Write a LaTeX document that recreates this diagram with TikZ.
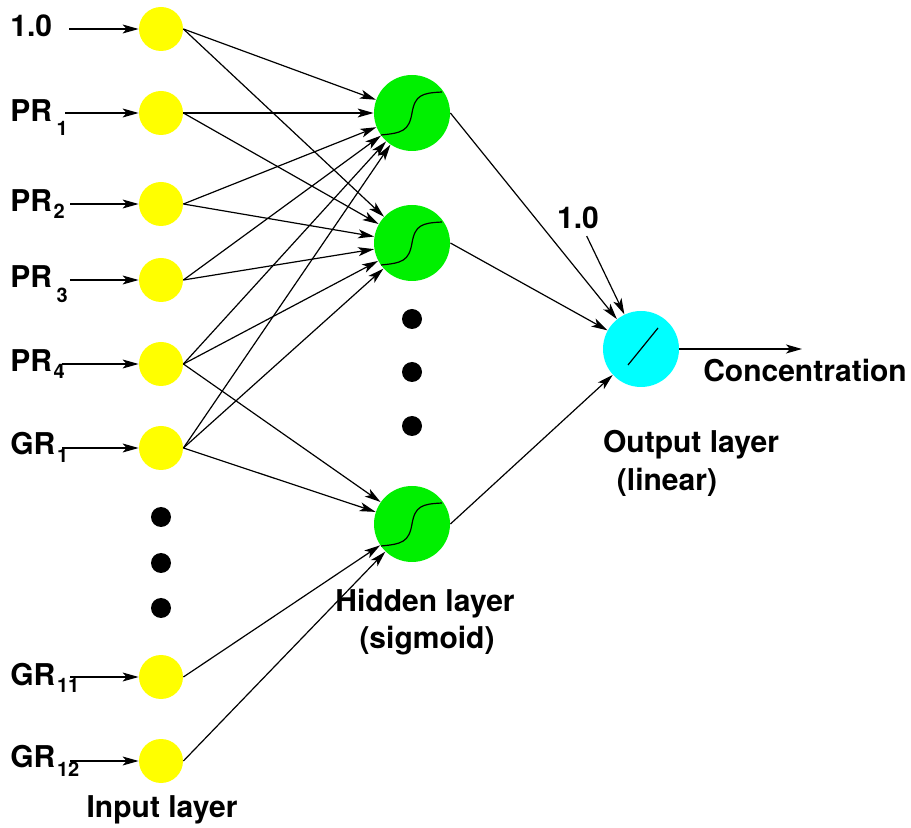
\documentclass[tikz,border=0pt]{standalone}
\usepackage{fontspec}
\setmainfont{TeX Gyre Heros}
\usepackage{tikz}
\usetikzlibrary{arrows.meta}
\definecolor{inyellow}{RGB}{255,255,0}
\definecolor{hidgreen}{RGB}{0,240,0}
\definecolor{outcyan}{RGB}{0,255,255}
\newcommand{\lsub}[2]{\kern0.8pt\raisebox{#1}{\fontsize{10}{10}\selectfont #2}}

\begin{document}
\begin{tikzpicture}[x=0.5pt, y=-0.5pt,
    font=\fontsize{15}{18}\selectfont\bfseries,
    >={Stealth[length=8pt,width=4.5pt,inset=2pt]},
    wire/.style={->, line width=0.6pt},
    unit/.style={circle, inner sep=0pt},
    inputnode/.style={unit, fill=inyellow, minimum size=22pt},
    hiddennode/.style={unit, fill=hidgreen, minimum size=38pt},
    outputnode/.style={unit, fill=outcyan, minimum size=38pt},
    dotnode/.style={unit, fill=black, minimum size=10pt},
    lbl/.style={anchor=base west, inner sep=0pt}]
    \useasboundingbox (0,0) rectangle (911,828);

    % Input layer
    \node[inputnode] (in0) at (161,29) {};
    \node[inputnode] (in1) at (161,113) {};
    \node[inputnode] (in2) at (161,204) {};
    \node[inputnode] (in3) at (161,280) {};
    \node[inputnode] (in4) at (161,364) {};
    \node[inputnode] (in5) at (161,448) {};
    \node[dotnode] (ind1) at (161,517) {};
    \node[dotnode] (ind2) at (161,563) {};
    \node[dotnode] (ind3) at (161,608) {};
    \node[inputnode] (in6) at (161,677) {};
    \node[inputnode] (in7) at (161,761) {};

    % Input labels
    \node[lbl] (lb0) at (10,37) {1.0};
    \node[lbl] (lb1) at (10,122) {PR\kern1.5pt\lsub{-7pt}{1}};
    \node[lbl] (lb2) at (10,212) {PR\lsub{-3.5pt}{2}};
    \node[lbl] (lb3) at (10,288) {PR\kern1.5pt\lsub{-7.5pt}{3}};
    \node[lbl] (lb4) at (10,372) {PR\lsub{-3.5pt}{4}};
    \node[lbl] (lb5) at (10,455) {GR\lsub{-4pt}{1}};
    \node[lbl] (lb6) at (10,685) {GR\lsub{-3.5pt}{11}};
    \node[lbl] (lb7) at (10,767) {GR\lsub{-4.5pt}{12}};

    \coordinate (s0) at (69,29);
    \coordinate (s1) at (65,113);
    \coordinate (s2) at (70,204);
    \coordinate (s3) at (70,280);
    \coordinate (s4) at (62,364);
    \coordinate (s5) at (62,448);
    \coordinate (s6) at (70,677);
    \coordinate (s7) at (70,761);
    \draw[wire] (s0) -- (in0);
    \draw[wire] (s1) -- (in1);
    \draw[wire] (s2) -- (in2);
    \draw[wire] (s3) -- (in3);
    \draw[wire] (s4) -- (in4);
    \draw[wire] (s5) -- (in5);
    \draw[wire] (s6) -- (in6);
    \draw[wire] (s7) -- (in7);

    % Hidden layer
    \node[hiddennode] (h1) at (412,113) {};
    \node[hiddennode] (h2) at (412,243) {};
    \node[dotnode] (hd1) at (412,319) {};
    \node[dotnode] (hd2) at (412,372) {};
    \node[dotnode] (hd3) at (412,426) {};
    \node[hiddennode] (h3) at (412,524) {};

    % sigmoid curves
    \draw[shift={(h1.center)}, line width=0.6pt] (-31,22) .. controls (-10,20) and (-3,18) .. (0,0) .. controls (3,-18) and (10,-20) .. (30,-21);
    \draw[shift={(h2.center)}, line width=0.6pt] (-31,22) .. controls (-10,20) and (-3,18) .. (0,0) .. controls (3,-18) and (10,-20) .. (30,-21);
    \draw[shift={(h3.center)}, line width=0.6pt] (-31,22) .. controls (-10,20) and (-3,18) .. (0,0) .. controls (3,-18) and (10,-20) .. (30,-21);

    % Input to hidden
    \draw[wire] (in0.east) -- (h1);
    \draw[wire] (in0.east) -- (h2);
    \draw[wire] (in1.east) -- (h1);
    \draw[wire] (in1.east) -- (h2);
    \draw[wire] (in2.east) -- (h1);
    \draw[wire] (in2.east) -- (h2);
    \draw[wire] (in3.east) -- (h1);
    \draw[wire] (in3.east) -- (h2);
    \draw[wire] (in4.east) -- (h1);
    \draw[wire] (in4.east) -- (h2);
    \draw[wire] (in4.east) -- (h3);
    \draw[wire] (in5.east) -- (h1);
    \draw[wire] (in5.east) -- (h2);
    \draw[wire] (in5.east) -- (h3);
    \draw[wire] (in6.east) -- (h3);
    \draw[wire] (in7.east) -- (h3);

    % Output layer
    \node[outputnode] (out) at (641,349) {};
    \draw[shift={(out.center)}, line width=0.6pt] (-13,16) -- (17,-21);
    \node (bias) at (578,218) {1.0};
    \coordinate (conc) at (802,349);

    \draw[wire] (h1.east) -- (out);
    \draw[wire] (h2.east) -- (out);
    \draw[wire] (h3.east) -- (out);
    \draw[wire] (bias) -- (out);
    \draw[wire] (out) -- (conc);

    % Captions
    \node (conclbl) at (805,371) {Concentration};
    \node (outlbl) at (691,445) {Output layer};
    \node (outlin) at (667,482) {(linear)};
    \node (hidlbl) at (425,604) {Hidden layer};
    \node (hidsig) at (427,641) {(sigmoid)};
    \node (inlbl) at (162,810) {Input layer};
\end{tikzpicture}
\end{document}
